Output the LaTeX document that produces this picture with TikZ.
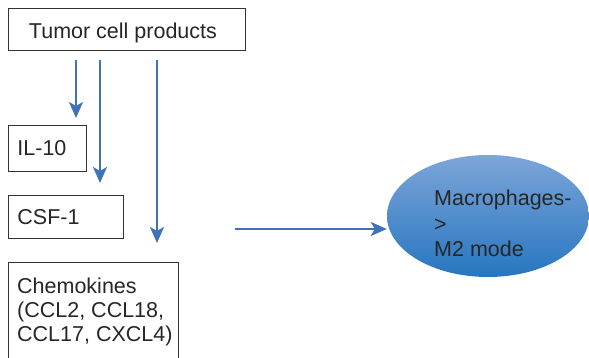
\documentclass[tikz,border=0pt]{standalone}
\usepackage{fontspec}
\setmainfont{Liberation Sans}
\usetikzlibrary{arrows.meta,shapes.geometric}
\definecolor{arrowblue}{HTML}{3F72B8}
\definecolor{celltop}{HTML}{7DA5D8}
\definecolor{cellbottom}{HTML}{2676C0}
\definecolor{boxline}{HTML}{333333}
\tikzset{
  labelfont/.style={font=\fontsize{21.5}{24}\selectfont, text=black!85},
  factorbox/.style={draw=boxline, line width=0.9pt, anchor=north west, inner sep=0pt, labelfont},
  flow/.style={draw=arrowblue, line width=2pt,
    -{Stealth[length=16pt,width=14pt,inset=4pt]}},
}
\begin{document}
\begin{tikzpicture}[x=1pt,y=-1pt]
\useasboundingbox (0,0) rectangle (589,358);

% source and the three factor boxes
\node[factorbox, minimum width=237pt, minimum height=42pt] (tumor) at (8,8)
  {\hspace*{-8pt}\raisebox{-3pt}[\height][\depth]{Tumor cell products}};
\node[factorbox, minimum width=78pt, minimum height=46pt, align=left,
  text width=78pt] (il10) at (8,125)
  {\hspace*{9pt}IL-10};
\node[factorbox, minimum width=115pt, minimum height=43pt, align=left,
  text width=115pt] (csf) at (8,195)
  {\hspace*{9pt}CSF-1};
\node[factorbox, minimum width=170pt, minimum height=100pt] (chemo) at (8,262) {};
\node[anchor=north west, align=left, inner sep=0pt, labelfont] (chemotext) at (17,278)
  {Chemokines\\(CCL2, CCL18,\\CCL17, CXCL4)};

% target cell
\node[ellipse, minimum width=202pt, minimum height=122pt, inner sep=0pt,
  top color=celltop, bottom color=cellbottom] (cell) at (488,216) {};
\node[anchor=north west, align=left, inner sep=0pt, labelfont,
  font=\fontsize{21.5}{25.5}\selectfont] (celltext) at (434,190)
  {Macrophages-\\>\\M2 mode};

% free ends of the connectors
\coordinate (s1) at (76,60);
\coordinate (e1) at (76,118);
\coordinate (s2) at (100,60);
\coordinate (e2) at (100,183);
\coordinate (s3) at (157,60);
\coordinate (e3) at (157,243);
\coordinate (s4) at (235,229);

\draw[flow] (s1) -- (e1);
\draw[flow] (s2) -- (e2);
\draw[flow] (s3) -- (e3);
\draw[flow] (s4) -- (s4 -| cell.west);
\end{tikzpicture}
\end{document}
